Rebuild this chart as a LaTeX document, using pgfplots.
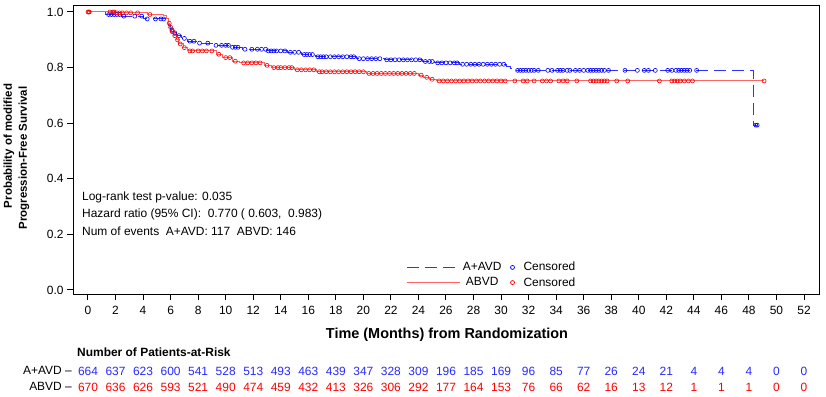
\documentclass[border=0pt]{standalone}
\usepackage{pgfplots}
\pgfplotsset{compat=1.18}
\usepackage{pgfplotstable}
\usepackage{fontspec}
\setmainfont{Liberation Sans}
\definecolor{cblue}{RGB}{0,0,255}
\definecolor{cblueline}{RGB}{50,50,255}
\definecolor{cbluetxt}{RGB}{40,40,255}
\definecolor{cred}{RGB}{255,0,0}
\definecolor{credline}{RGB}{255,100,100}
\newcommand{\fs}{\fontsize{12}{14}\selectfont}
\pgfplotsset{
  legA/.style={legend image code/.code={\draw[cblueline, line width=1bp, dash pattern=on 12bp off 6bp] (0bp,0bp) -- (48bp,0bp);}},
  legB/.style={legend image code/.code={\draw[credline, line width=1bp] (0bp,0bp) -- (53bp,0bp);}},
  legmA/.style={legend image code/.code={\path[draw=none,fill=none] (0bp,-2bp) rectangle (16bp,2bp); \draw[cblue, line width=0.7bp, fill=none] (7bp,0bp) circle (2bp);}},
  legmB/.style={legend image code/.code={\path[draw=none,fill=none] (0bp,-2bp) rectangle (16bp,2bp); \draw[cred, line width=0.7bp, fill=none] (7bp,0bp) circle (2bp);}},
}

\pgfplotstableread{
t n
0 664
2 637
4 623
6 600
8 541
10 528
12 513
14 493
16 463
18 439
20 347
22 328
24 309
26 196
28 185
30 169
32 96
34 85
36 77
38 26
40 24
42 21
44 4
46 4
48 4
50 0
52 0
}\riskA
\pgfplotstableread{
t n
0 670
2 636
4 626
6 593
8 521
10 490
12 474
14 459
16 432
18 413
20 326
22 306
24 292
26 177
28 164
30 153
32 76
34 66
36 62
38 16
40 13
42 12
44 1
46 1
48 1
50 0
52 0
}\riskB

\begin{document}
\begin{tikzpicture}
\useasboundingbox (0bp,0bp) rectangle (826bp,397bp);
\begin{axis}[
  at={(73bp,102.5bp)}, anchor=south west,
  scale only axis, width=746bp, height=288.5bp,
  xmin=-1.089, xmax=53.09, ymin=-0.0162, ymax=1.0216,
  xtick={0,2,...,52}, ytick={0,0.2,0.4,0.6,0.8,1},
  tick align=outside, tick pos=left, major tick length=6bp,
  axis line style={line width=1bp, black},
  every tick/.style={black, line width=1bp},
  ticklabel style={font=\fs},
  /pgf/number format/assume math mode=true,
  yticklabel style={/pgf/number format/.cd,fixed,fixed zerofill,precision=1},
  xticklabel style={yshift=-2bp},
  clip=false,
  legend columns=2,
  legend cell align=center,
  legend style={draw=none, fill=none, font=\fs, at={(axis cs:29.35,0.054)}, anchor=center,
    row sep=1bp, /tikz/every even column/.append style={column sep=2bp}},
]
% A+AVD step curve
\addplot[cblueline, line width=1bp, dash pattern=on 12bp off 6bp, const plot, legA] coordinates {
(0,1.0)(1.3,0.991)(2.4,0.985)(4.0,0.975)(5.7,0.965)(5.85,0.95)(6.0,0.935)(6.15,0.925)
(6.4,0.915)(6.8,0.905)(7.2,0.895)(8.0,0.888)(9.3,0.88)(10.4,0.873)(11.2,0.866)(13.0,0.86)
(14.5,0.855)(15.5,0.847)(16.5,0.839)(19.5,0.832)(21.5,0.828)(24.3,0.822)(25.2,0.817)
(27.0,0.812)(30.4,0.805)(30.7,0.797)(31.0,0.79)(48.3,0.593)(48.6,0.593)};
\addlegendentry{A+AVD}
\addplot[only marks, mark=o, mark size=2bp, cblue, mark options={line width=0.6bp}, legmA] coordinates {
(1.5,.991)(1.7,.991)(1.9,.991)(2.1,.991)(2.3,.991)
(2.6,.985)(3.4,.985)(3.9,.985)
(4.3,.975)(4.9,.975)(5.3,.975)(5.5,.975)
(6.1,.935)(6.3,.925)(6.6,.915)(7.0,.905)(7.4,.895)(7.7,.895)(8.1,.888)(8.7,.888)
(9.3,.88)(9.7,.88)(10.0,.88)(10.2,.88)(10.5,.873)(10.7,.873)(10.9,.873)
(11.4,.866)(11.9,.866)(12.3,.866)(12.6,.866)(12.9,.866)
(13.1,.86)(13.3,.86)(13.5,.86)(13.7,.86)(14.0,.86)(14.3,.86)
(14.7,.855)(15.0,.855)(15.3,.855)
(15.7,.847)(15.9,.847)(16.1,.847)(16.3,.847)
(16.7,.839)(16.9,.839)(17.1,.839)(17.3,.839)(17.6,.839)(17.9,.839)(18.2,.839)(18.5,.839)(18.8,.839)(19.1,.839)(19.3,.839)
(19.7,.832)(20.0,.832)(20.3,.832)(20.6,.832)(20.9,.832)(21.2,.832)
(21.7,.828)(22.0,.828)(22.3,.828)(22.6,.828)(22.9,.828)(23.2,.828)(23.5,.828)(23.8,.828)(24.1,.828)
(24.5,.822)(24.8,.822)(25.0,.822)
(25.4,.817)(25.7,.817)(26.0,.817)(26.3,.817)(26.6,.817)(26.8,.817)
(27.2,.812)(27.5,.812)(27.8,.812)(28.1,.812)(28.4,.812)(28.7,.812)(29.0,.812)(29.3,.812)(29.6,.812)(29.9,.812)(30.2,.812)
(31.2,.79)(31.4,.79)(31.6,.79)(31.8,.79)(32.0,.79)(32.2,.79)(32.4,.79)(32.7,.79)(33.4,.79)(33.7,.79)(34.1,.79)(34.3,.79)(34.5,.79)(34.8,.79)(35.0,.79)(35.4,.79)(35.7,.79)(36.0,.79)(36.3,.79)(36.5,.79)(36.7,.79)(36.9,.79)(37.1,.79)(37.3,.79)(37.5,.79)(37.8,.79)(39.0,.79)(39.9,.79)(40.4,.79)(40.7,.79)(41.2,.79)(42.1,.79)(42.4,.79)(42.7,.79)(42.9,.79)(43.1,.79)(43.3,.79)(43.5,.79)(43.7,.79)(44.2,.79)
(48.5,.593)(48.6,.593)};
\addlegendentry{Censored}
% ABVD step curve
\addplot[credline, line width=1bp, const plot, legB] coordinates {
(0,1.0)(2.0,0.997)(4.3,0.991)(5.5,0.987)(5.7,0.975)(5.85,0.96)(5.95,0.945)(6.05,0.93)
(6.2,0.915)(6.4,0.9)(6.6,0.885)(6.9,0.872)(7.2,0.86)(9.3,0.848)(9.8,0.836)(10.5,0.823)
(11.0,0.817)(12.8,0.808)(13.3,0.8)(15.0,0.792)(16.6,0.785)(20.2,0.779)(24.0,0.773)
(24.4,0.765)(24.8,0.758)(25.3,0.752)(49.1,0.752)};
\addlegendentry{ABVD}
\addplot[only marks, mark=o, mark size=2bp, cred, mark options={line width=0.6bp}, legmB] coordinates {
(0,1.0)(0.05,1.0)(0.1,1.0)(1.6,1.0)(1.8,1.0)(1.9,1.0)
(2.1,.997)(2.3,.997)(2.5,.997)(2.8,.997)(3.1,.997)(3.6,.997)(4.5,.991)
(5.9,.96)(6.0,.945)(6.1,.93)(6.15,.93)(6.3,.915)(6.5,.9)(6.7,.885)(7.0,.872)(7.4,.86)(7.6,.86)(8.0,.86)(8.3,.86)(8.6,.86)(9.0,.86)
(9.5,.848)(10.0,.836)(10.3,.836)(10.7,.823)(11.3,.817)(11.6,.817)(11.9,.817)(12.2,.817)(12.5,.817)
(13.0,.808)(13.5,.8)(13.8,.8)(14.0,.8)(14.3,.8)(14.6,.8)(14.8,.8)
(15.2,.792)(15.5,.792)(15.8,.792)(16.1,.792)(16.4,.792)
(16.8,.785)(17.0,.785)(17.3,.785)(17.6,.785)(17.9,.785)(18.2,.785)(18.5,.785)(18.8,.785)(19.1,.785)(19.4,.785)(19.7,.785)(20.0,.785)
(20.4,.779)(20.7,.779)(21.0,.779)(21.3,.779)(21.6,.779)(21.9,.779)(22.2,.779)(22.5,.779)(22.8,.779)(23.1,.779)(23.4,.779)(23.7,.779)
(24.2,.773)(24.6,.765)(25.0,.758)
(25.5,.752)(25.8,.752)(26.1,.752)(26.4,.752)(26.7,.752)(27.0,.752)(27.3,.752)(27.6,.752)(27.9,.752)(28.2,.752)(28.5,.752)(28.8,.752)(29.1,.752)(29.4,.752)(29.7,.752)(30.0,.752)(30.3,.752)
(31.0,.752)(31.6,.752)(31.9,.752)(32.4,.752)(33.0,.752)(33.3,.752)(33.6,.752)(34.2,.752)(34.5,.752)(34.8,.752)(35.5,.752)(36.5,.752)(36.7,.752)(36.9,.752)(37.1,.752)(37.3,.752)(37.5,.752)(37.7,.752)(38.4,.752)(39.2,.752)(41.5,.752)(42.4,.752)(42.6,.752)(42.8,.752)(43.0,.752)(43.3,.752)(43.6,.752)(43.9,.752)(49.1,.752)};
\addlegendentry{Censored}
% risk table
\addplot[forget plot, only marks, mark=none, nodes near coords, point meta=explicit symbolic,
  nodes near coords style={anchor=center, font=\fs, text=cbluetxt, inner sep=0pt}]
  table[x=t, y expr=-0.2914, meta=n] {\riskA};
\addplot[forget plot, only marks, mark=none, nodes near coords, point meta=explicit symbolic,
  nodes near coords style={anchor=center, font=\fs, text=cred, inner sep=0pt}]
  table[x=t, y expr=-0.3489, meta=n] {\riskB};
\end{axis}
% annotations
\node[anchor=west, inner sep=0pt, font=\fs] at (82bp,200bp) {Log-rank test p-value: 0.035};
\node[anchor=west, inner sep=0pt, font=\fs] at (82bp,183bp) {Hazard ratio (95\% CI):\ \ 0.770 ( 0.603,\ \ 0.983)};
\node[anchor=west, inner sep=0pt, font=\fs] at (82bp,166bp) {Num of events\ \ A+AVD: 117\ \ ABVD: 146};
% axis labels
\node[inner sep=0pt, font=\bfseries\fontsize{14.5}{17}\selectfont] at (447bp,62bp) {Time (Months) from Randomization};
\node[rotate=90, inner sep=0pt, font=\bfseries\fontsize{11.5}{13}\selectfont] at (9bp,251bp) {Probability of modified};
\node[rotate=90, inner sep=0pt, font=\bfseries\fontsize{11.5}{13}\selectfont] at (24bp,239bp) {Progression-Free Survival};
% risk table labels
\node[anchor=west, inner sep=0pt, font=\bfseries\fs] at (77bp,45bp) {Number of Patients-at-Risk};
\node[anchor=east, inner sep=0pt, font=\fs] at (72bp,27bp) {A+AVD --};
\node[anchor=east, inner sep=0pt, font=\fs] at (72bp,11bp) {ABVD --};
\end{tikzpicture}
\end{document}
